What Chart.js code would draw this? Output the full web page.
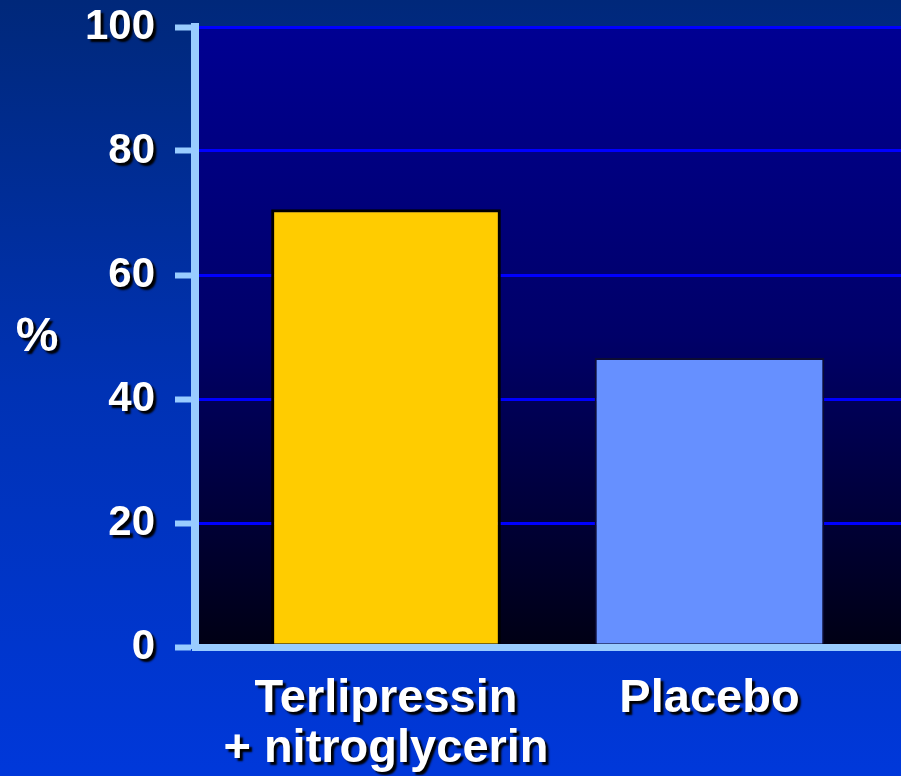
<!DOCTYPE html>
<html><head><meta charset="utf-8">
<script src="https://cdn.jsdelivr.net/npm/chart.js@4"></script>
<style>
html,body{margin:0;padding:0;background:#0030a8;overflow:hidden}
#wrap{position:relative;width:901px;height:776px}
</style>
</head><body><div id="wrap"><canvas id="c"></canvas></div>
<script>
// ---- data ----
const categories = [['Terlipressin', '+ nitroglycerin'], ['Placebo']];
const values = [70.6, 46.6];
const yTicks = [0, 20, 40, 60, 80, 100];
const yTitle = '%';
// ---- styles ----
const barColors = ['#ffcc00', '#6690ff'];
const barBorders = ['#000000', '#0c0c34'];
const barBorderWidths = [3, 2];

Chart.defaults.font.family = '"Liberation Sans", Arial, sans-serif';

const bgPlugin = {
  id: 'bg',
  beforeDraw(chart) {
    const {ctx, width, height, chartArea: a} = chart;
    ctx.save();
    const g = ctx.createLinearGradient(0, 0, 0, height);
    g.addColorStop(0, '#00287a');
    g.addColorStop(0.5, '#0032b4');
    g.addColorStop(1, '#0038da');
    ctx.fillStyle = g;
    ctx.fillRect(0, 0, width, height);
    const p = ctx.createLinearGradient(0, a.top, 0, a.bottom);
    p.addColorStop(0, '#000092');
    p.addColorStop(0.5, '#000068');
    p.addColorStop(1, '#000014');
    ctx.fillStyle = p;
    ctx.fillRect(a.left, a.top, a.right - a.left, a.bottom - a.top);
    ctx.restore();
  }
};

const shadowPlugin = {
  id: 'shadow',
  afterDatasetsDraw(chart) {
    const ctx = chart.ctx;
    ctx.shadowColor = 'rgba(0,0,0,1)';
    ctx.shadowOffsetX = 3;
    ctx.shadowOffsetY = 3;
    ctx.shadowBlur = 2;
  },
  afterDraw(chart) {
    const {ctx, chartArea: a} = chart;
    ctx.save();
    ctx.fillStyle = '#ffffff';
    ctx.font = 'bold 48px "Liberation Sans", Arial, sans-serif';
    ctx.textAlign = 'center';
    ctx.textBaseline = 'middle';
    ctx.fillText(yTitle, 37, (a.top + a.bottom) / 2 + 1);
    ctx.restore();
    ctx.shadowColor = 'rgba(0,0,0,0)';
    ctx.shadowOffsetX = 0;
    ctx.shadowOffsetY = 0;
    ctx.shadowBlur = 0;
  }
};

new Chart(document.getElementById('c'), {
  type: 'bar',
  data: {
    datasets: [{
      data: values.map((v, i) => ({x: i, y: v})),
      backgroundColor: barColors,
      borderColor: barBorders,
      borderWidth: barBorderWidths,
      borderSkipped: 'start',
      barPercentage: 0.71,
      categoryPercentage: 1,
      clip: {left: 0, top: 0, right: 0, bottom: -3.5}
    }]
  },
  options: {
    responsive: true,
    maintainAspectRatio: false,
    animation: false,
    events: [],
    layout: {padding: {top: 27, left: 0, right: 0, bottom: 0}},
    plugins: {legend: {display: false}, tooltip: {enabled: false}},
    scales: {
      x: {
        type: 'linear',
        offset: false,
        min: -0.5904,
        max: 1.592,
        afterBuildTicks: s => { s.ticks = categories.map((c, i) => ({value: i})); },
        afterFit: s => { s.height = 129; s.paddingLeft = 0; s.paddingRight = 0; },
        grid: {display: true, offset: false, drawOnChartArea: false, drawTicks: false},
        border: {display: true, color: '#99ccff', width: 7},
        ticks: {
          autoSkip: false, maxRotation: 0, padding: 27, color: '#ffffff', z: 1,
          font: {size: 47, weight: 'bold', lineHeight: 1.06},
          callback: v => categories[v]
        }
      },
      y: {
        min: yTicks[0],
        max: yTicks[yTicks.length - 1],
        afterBuildTicks: s => { s.ticks = yTicks.map(v => ({value: v})); },
        afterFit: s => { s.width = 195; s.paddingTop = 0; s.paddingBottom = 0; },
        grid: {color: '#0000ff', lineWidth: 3, tickColor: '#99ccff', tickWidth: 6, tickLength: 20},
        border: {display: true, color: '#99ccff', width: 8},
        ticks: {
          color: '#ffffff', padding: 20, z: 1,
          font: {size: 42, weight: 'bold'}
        }
      }
    }
  },
  plugins: [bgPlugin, shadowPlugin]
});
</script>
</body></html>
